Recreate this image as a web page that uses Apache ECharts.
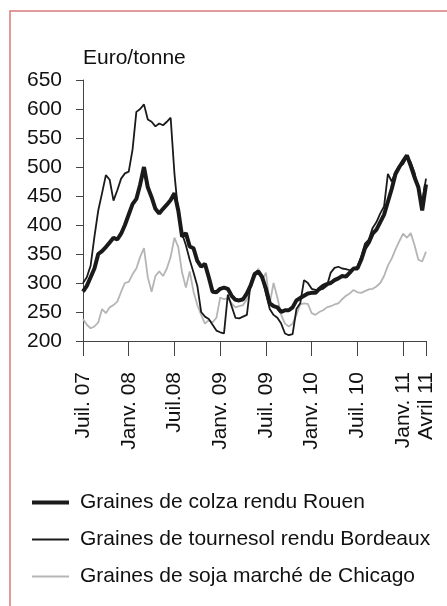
<!DOCTYPE html>
<html>
<head>
<meta charset="utf-8">
<script src="https://cdn.jsdelivr.net/npm/echarts@6/dist/echarts.min.js"></script>
<style>
  html, body { margin: 0; padding: 0; background: #fff; }
  #main { width: 447px; height: 606px; }
</style>
</head>
<body>
<div id="main"></div>
<script>
// dates semi-mensuelles, juil. 2007 -> avril 2011
var dates = [
  '2007-07-01','2007-07-15','2007-08-01','2007-08-15','2007-09-01','2007-09-15','2007-10-01','2007-10-15','2007-11-01','2007-11-15','2007-12-01','2007-12-15',
  '2008-01-01','2008-01-15','2008-02-01','2008-02-15','2008-03-01','2008-03-15','2008-04-01','2008-04-15','2008-05-01','2008-05-15','2008-06-01','2008-06-15',
  '2008-07-01','2008-07-15','2008-08-01','2008-08-15','2008-09-01','2008-09-15','2008-10-01','2008-10-15','2008-11-01','2008-11-15','2008-12-01','2008-12-15',
  '2009-01-01','2009-01-15','2009-02-01','2009-02-15','2009-03-01','2009-03-15','2009-04-01','2009-04-15','2009-05-01','2009-05-15','2009-06-01','2009-06-15',
  '2009-07-01','2009-07-15','2009-08-01','2009-08-15','2009-09-01','2009-09-15','2009-10-01','2009-10-15','2009-11-01','2009-11-15','2009-12-01','2009-12-15',
  '2010-01-01','2010-01-15','2010-02-01','2010-02-15','2010-03-01','2010-03-15','2010-04-01','2010-04-15','2010-05-01','2010-05-15','2010-06-01','2010-06-15',
  '2010-07-01','2010-07-15','2010-08-01','2010-08-15','2010-09-01','2010-09-15','2010-10-01','2010-10-15','2010-11-01','2010-11-15','2010-12-01','2010-12-15',
  '2011-01-01','2011-01-15','2011-02-01','2011-02-15','2011-03-01','2011-03-15','2011-04-01'
]

// libellés de l'axe des x
var tickLabels = {
  '2007-07-01': 'Juil. 07',
  '2008-01-01': 'Janv. 08',
  '2008-07-01': 'Juil.08',
  '2009-01-01': 'Janv. 09',
  '2009-07-01': 'Juil. 09',
  '2010-01-01': 'Janv. 10',
  '2010-07-01': 'Juil. 10',
  '2011-01-01': 'Janv. 11',
  '2011-04-01': 'Avril 11'
}

var seriesNames = [
  'Graines de colza rendu Rouen',
  'Graines de tournesol rendu Bordeaux',
  'Graines de soja marché de Chicago'
]

// euro/tonne
var colza = [
  285, 295, 310, 325, 350, 355, 362, 370, 378, 375, 385, 400,
  418, 436, 445, 470, 500, 465, 448, 428, 420, 428, 435, 443,
  455, 425, 380, 386, 363, 360, 338, 328, 333, 310, 285, 284,
  290, 292, 290, 278, 271, 270, 272, 282, 296, 315, 320, 310,
  290, 265, 260, 258, 250, 253, 253, 258, 270, 274, 278, 282,
  283, 283, 290, 295, 298, 300, 305, 308, 312, 311, 318, 325,
  325, 340, 360, 370, 385, 392, 405, 418, 440, 462, 488, 500,
  510, 520, 502, 482, 465, 425, 470
]

var tournesol = [
  300, 310, 330, 380, 425, 455, 486, 478, 442, 460, 480, 489,
  492, 530, 595, 600, 608, 582, 578, 570, 575, 572, 578, 585,
  488, 420, 385, 365, 340, 318, 295, 250, 242, 238, 228, 218,
  215, 213, 280, 260, 240, 239, 242, 245, 300, 318, 316, 312,
  282, 255, 245, 240, 230, 213, 210, 212, 255, 265, 305, 300,
  290, 288, 288, 290, 295, 318, 326, 328, 325, 324, 322, 325,
  328, 345, 368, 375, 395, 405, 420, 432, 488, 475, 492, 502,
  505, 518, 508, 490, 460, 440, 480
]

var soja = [
  238, 228, 222, 225, 232, 255, 248, 258, 262, 268, 285, 300,
  302, 315, 325, 345, 360, 310, 285, 312, 320, 312, 325, 345,
  378, 362, 318, 292, 320, 285, 262, 245, 230, 236, 232, 240,
  275, 272, 274, 265, 258, 260, 262, 272, 295, 308, 325, 305,
  318, 265, 300, 275, 245, 230, 225, 230, 245, 263, 265, 264,
  248, 245, 250, 253, 258, 260, 263, 265, 272, 278, 282, 288,
  284, 283, 286, 289, 290, 294, 300, 312, 330, 342, 358, 372,
  385, 378, 386, 365, 340, 337, 354
]

var font = "'Liberation Sans', Arial, sans-serif"
var lineColors = ['#1a1a1a', '#1a1a1a', '#b5b5b5']
var lineWidths = [4, 1.8, 1.8]

var myChart = echarts.init(document.getElementById('main'))

var option = {
  backgroundColor: '#fff',
  animation: false,
  textStyle: { fontFamily: font },
  graphic: [{
    type: 'rect',
    shape: { x: 10, y: 11, width: 460, height: 620 },
    style: { fill: 'none', stroke: '#d97a7a', lineWidth: 1.5 },
    silent: true
  }],
  grid: {
    left: 83,
    right: 21,
    top: 80,
    bottom: 265
  },
  legend: {
    orient: 'vertical',
    left: 25,
    top: 487,
    itemWidth: 37,
    itemHeight: 14,
    itemGap: 16,
    itemStyle: { opacity: 0 },
    textStyle: { fontSize: 21, color: '#111', fontFamily: font, padding: [0, 0, 0, 6] },
    data: seriesNames.map(function (n, i) {
      return { name: n, lineStyle: { color: lineColors[i], width: lineWidths[i] } }
    })
  },
  xAxis: {
    type: 'category',
    boundaryGap: false,
    data: dates,
    axisLine: { lineStyle: { color: '#444', width: 1 } },
    axisTick: {
      length: 15,
      lineStyle: { color: '#444' },
      interval: function (index, value) { return tickLabels[value] !== undefined }
    },
    axisLabel: {
      rotate: 90,
      margin: 31,
      fontSize: 21,
      color: '#111',
      fontFamily: font,
      interval: function (index, value) { return tickLabels[value] !== undefined },
      formatter: function (value) { return tickLabels[value] || '' }
    },
    splitLine: { show: false }
  },
  yAxis: {
    type: 'value',
    min: 200,
    max: 650,
    interval: 50,
    name: 'Euro/tonne',
    nameLocation: 'end',
    nameGap: 11,
    nameTextStyle: { fontSize: 21, color: '#111', align: 'left', fontFamily: font },
    axisLine: { show: true, lineStyle: { color: '#444', width: 1 } },
    axisTick: { show: true, length: 7, lineStyle: { color: '#444' } },
    axisLabel: { fontSize: 21, color: '#111', margin: 21, fontFamily: font },
    splitLine: { show: false }
  },
  series: [
    {
      name: seriesNames[0],
      type: 'line',
      data: colza,
      showSymbol: false,
      symbol: 'none',
      z: 4,
      lineStyle: { color: lineColors[0], width: lineWidths[0] },
      itemStyle: { color: lineColors[0] }
    },
    {
      name: seriesNames[1],
      type: 'line',
      data: tournesol,
      showSymbol: false,
      symbol: 'none',
      z: 5,
      lineStyle: { color: lineColors[1], width: lineWidths[1] },
      itemStyle: { color: lineColors[1] }
    },
    {
      name: seriesNames[2],
      type: 'line',
      data: soja,
      showSymbol: false,
      symbol: 'none',
      z: 3,
      lineStyle: { color: lineColors[2], width: lineWidths[2] },
      itemStyle: { color: lineColors[2] }
    }
  ]
}

myChart.setOption(option)
</script>
</body>
</html>
